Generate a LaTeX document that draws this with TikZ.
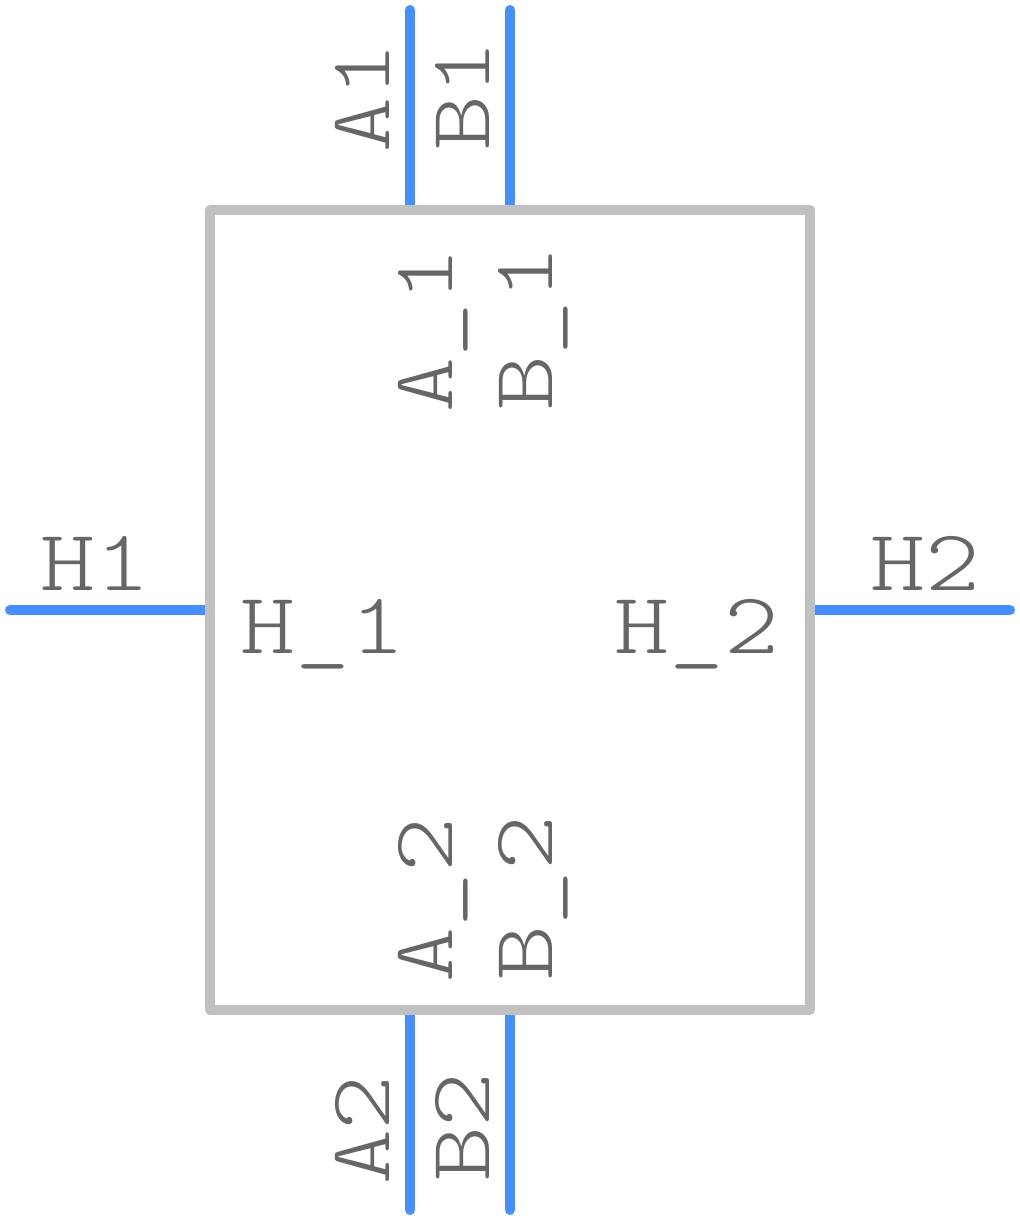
\documentclass[tikz,border=0pt]{standalone}
\usepackage{fontspec}
\usetikzlibrary{positioning}
\definecolor{pinblue}{HTML}{458FFF}
\definecolor{bodygray}{HTML}{C0C0C0}
\definecolor{textgray}{HTML}{666666}
\tikzset{
  pinline/.style={draw=pinblue,line width=5pt,line cap=round},
  bodyline/.style={draw=bodygray,line width=5pt,line join=round},
  pintext/.style={text=textgray,font=\ttfamily\fontseries{l}\fontsize{43.5}{44}\selectfont,inner sep=0pt,xscale=1.2},
  pintextv/.style={rotate=90,pintext},
}
\begin{document}
\begin{tikzpicture}[x=0.5pt,y=-0.5pt]
    \useasboundingbox (0,0) rectangle (1020,1220);
    \coordinate (nw) at (210,210);
    \coordinate (ne) at (810,210);
    \coordinate (se) at (810,1010);
    \coordinate (sw) at (210,1010);
    \coordinate (a1t) at (410,10);
    \coordinate (a1b) at (410,210);
    \coordinate (b1t) at (510,10);
    \coordinate (b1b) at (510,210);
    \coordinate (a2t) at (410,1010);
    \coordinate (a2b) at (410,1210);
    \coordinate (b2t) at (510,1010);
    \coordinate (b2b) at (510,1210);
    \coordinate (h1l) at (10,610);
    \coordinate (h1r) at (210,610);
    \coordinate (h2l) at (810,610);
    \coordinate (h2r) at (1010,610);
    \draw[pinline] (a1t) -- (a1b);
    \draw[pinline] (b1t) -- (b1b);
    \draw[pinline] (a2t) -- (a2b);
    \draw[pinline] (b2t) -- (b2b);
    \draw[pinline] (h1l) -- (h1r);
    \draw[pinline] (h2l) -- (h2r);
    \draw[bodyline] (nw) -- (ne) -- (se) -- (sw) -- cycle;
    % pin numbers
    \node[pintextv,anchor=base] (a1n) at (389,98) {A1};
    \node[pintextv,anchor=base] (b1n) at (489,96) {B1};
    \node[pintextv,anchor=base] (a2n) at (389,1130) {A2};
    \node[pintextv,anchor=base] (b2n) at (489,1127) {B2};
    \node[pintext,anchor=base] (h1n) at (95,590) {H1};
    \node[pintext,anchor=base] (h2n) at (925,590) {H2};
    % pin names
    \node[pintextv,anchor=base] (a1m) at (452,330) {A\_1};
    \node[pintextv,anchor=base] (b1m) at (552,328) {B\_1};
    \node[pintextv,anchor=base] (a2m) at (452,900) {A\_2};
    \node[pintextv,anchor=base] (b2m) at (552,898) {B\_2};
    \node[pintext,anchor=base] (h1m) at (323,653) {H\_1};
    \node[pintext,anchor=base] (h2m) at (697,653) {H\_2};
\end{tikzpicture}
\end{document}
